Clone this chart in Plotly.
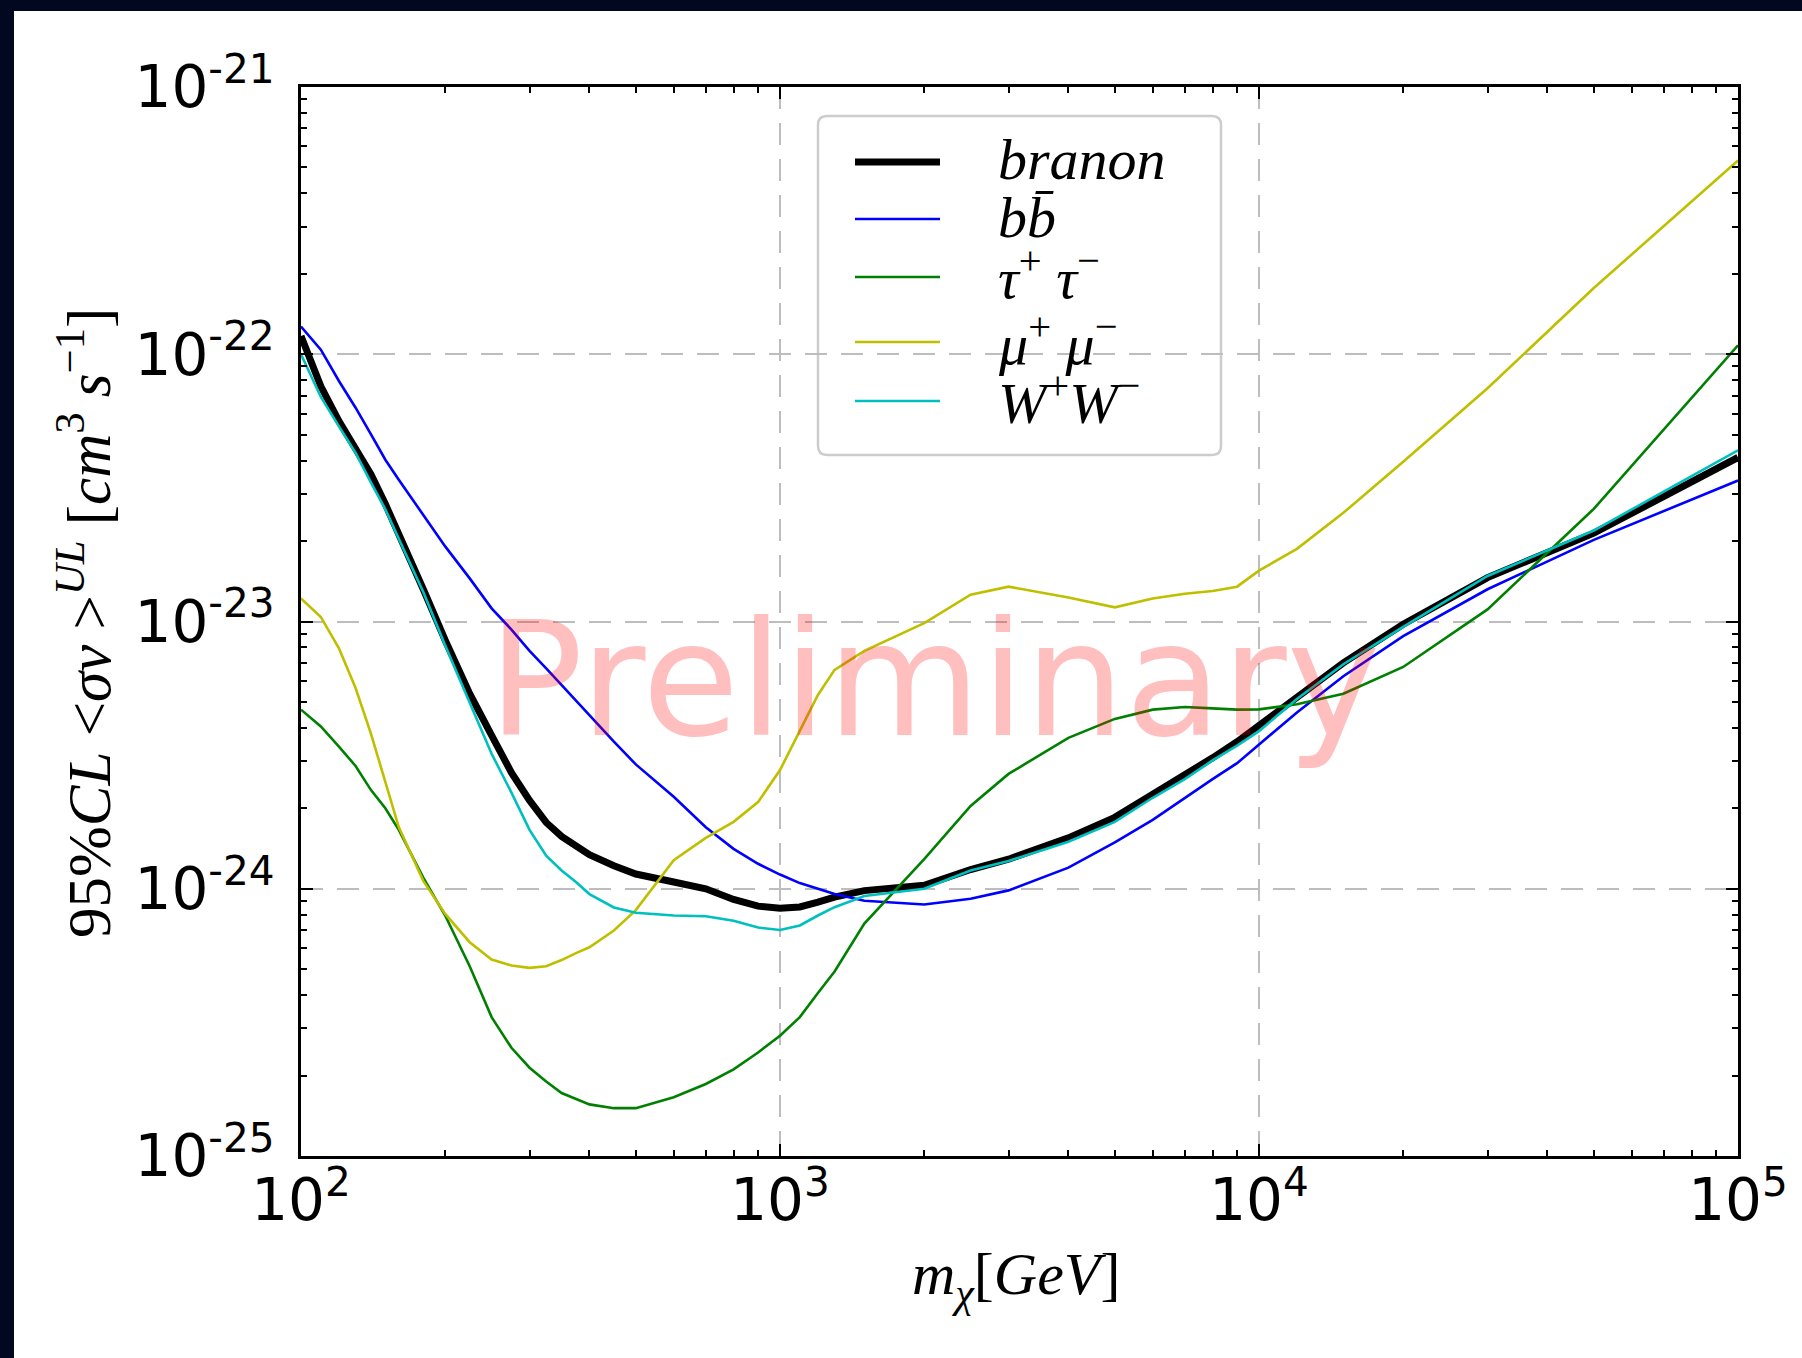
import plotly.graph_objects as go

# ---------------- data ----------------
masses = [100, 110, 120, 130, 140, 150, 160, 180, 200, 225,
          250, 275, 300, 325, 350, 375, 400, 450, 500, 600,
          700, 800, 900, 1000, 1100, 1200, 1300, 1500, 2000, 2500,
          3000, 4000, 5000, 6000, 7000, 8000, 9000, 10000, 12000, 15000,
          20000, 30000, 50000, 100000]

branon = [1.17e-22, 7.59e-23, 5.62e-23, 4.47e-23, 3.55e-23, 2.75e-23, 2.14e-23, 1.32e-23, 8.51e-24, 5.37e-24,
          3.75e-24, 2.72e-24, 2.14e-24, 1.77e-24, 1.57e-24, 1.44e-24, 1.34e-24, 1.22e-24, 1.135e-24, 1.06e-24,
          1.00e-24, 9.12e-25, 8.61e-25, 8.45e-25, 8.55e-25, 8.91e-25, 9.31e-25, 9.84e-25, 1.03e-24, 1.18e-24,
          1.29e-24, 1.55e-24, 1.85e-24, 2.26e-24, 2.66e-24, 3.09e-24, 3.55e-24, 4.07e-24, 5.25e-24, 7.00e-24,
          9.77e-24, 1.46e-23, 2.14e-23, 4.11e-23]

bbbar = [1.27e-22, 1.04e-22, 7.94e-23, 6.31e-23, 5.01e-23, 4.03e-23, 3.39e-23, 2.51e-23, 1.91e-23, 1.45e-23,
         1.12e-23, 9.33e-24, 7.76e-24, 6.68e-24, 5.78e-24, 5.07e-24, 4.47e-24, 3.55e-24, 2.92e-24, 2.21e-24,
         1.70e-24, 1.41e-24, 1.24e-24, 1.13e-24, 1.05e-24, 1.00e-24, 9.55e-25, 9.02e-25, 8.73e-25, 9.18e-25,
         9.86e-25, 1.20e-24, 1.49e-24, 1.81e-24, 2.19e-24, 2.57e-24, 2.95e-24, 3.47e-24, 4.57e-24, 6.24e-24,
         8.81e-24, 1.32e-23, 2.02e-23, 3.37e-23]

tautau = [4.68e-24, 4.05e-24, 3.40e-24, 2.88e-24, 2.34e-24, 2.00e-24, 1.66e-24, 1.10e-24, 7.94e-25, 5.13e-25,
          3.31e-25, 2.54e-25, 2.14e-25, 1.90e-25, 1.72e-25, 1.63e-25, 1.56e-25, 1.51e-25, 1.51e-25, 1.66e-25,
          1.86e-25, 2.11e-25, 2.44e-25, 2.82e-25, 3.31e-25, 4.07e-25, 4.90e-25, 7.41e-25, 1.29e-24, 2.04e-24,
          2.69e-24, 3.67e-24, 4.32e-24, 4.68e-24, 4.79e-24, 4.73e-24, 4.68e-24, 4.69e-24, 4.90e-24, 5.37e-24,
          6.76e-24, 1.11e-23, 2.64e-23, 1.08e-22]

mumu = [1.22e-23, 1.04e-23, 7.94e-24, 5.64e-24, 3.80e-24, 2.51e-24, 1.70e-24, 1.07e-24, 8.05e-25, 6.31e-25,
        5.43e-25, 5.16e-25, 5.06e-25, 5.13e-25, 5.41e-25, 5.74e-25, 6.04e-25, 6.98e-25, 8.32e-25, 1.28e-24,
        1.55e-24, 1.78e-24, 2.11e-24, 2.78e-24, 3.89e-24, 5.31e-24, 6.59e-24, 7.76e-24, 9.86e-24, 1.26e-23,
        1.35e-23, 1.23e-23, 1.13e-23, 1.22e-23, 1.27e-23, 1.30e-23, 1.35e-23, 1.55e-23, 1.87e-23, 2.55e-23,
        3.96e-23, 7.46e-23, 1.77e-22, 5.31e-22]

wwbar = [1.00e-22, 6.92e-23, 5.37e-23, 4.27e-23, 3.31e-23, 2.63e-23, 2.04e-23, 1.29e-23, 8.13e-24, 4.94e-24,
         3.20e-24, 2.29e-24, 1.66e-24, 1.33e-24, 1.17e-24, 1.06e-24, 9.55e-25, 8.51e-25, 8.13e-25, 7.94e-25,
         7.89e-25, 7.59e-25, 7.16e-25, 7.01e-25, 7.29e-25, 7.94e-25, 8.53e-25, 9.40e-25, 1.00e-24, 1.17e-24,
         1.27e-24, 1.50e-24, 1.78e-24, 2.19e-24, 2.57e-24, 3.02e-24, 3.43e-24, 3.89e-24, 5.13e-24, 6.92e-24,
         9.55e-24, 1.48e-23, 2.19e-23, 4.37e-23]

series_labels = ["<i>branon</i>",
                 "<i>b</i><i>b\u0304</i>",
                 "<i>τ</i><sup>+</sup> <i>τ</i><sup>−</sup>",
                 "<i>μ</i><sup>+</sup> <i>μ</i><sup>−</sup>",
                 "<i>W</i><sup>+</sup><i>W</i><sup>−</sup>"]

x_tick_vals = [1e2, 1e3, 1e4, 1e5]
x_tick_text = ["10<sup>2</sup>", "10<sup>3</sup>", "10<sup>4</sup>", "10<sup>5</sup>"]
y_tick_vals = [1e-25, 1e-24, 1e-23, 1e-22, 1e-21]
y_tick_text = ["10<sup>-25</sup>", "10<sup>-24</sup>", "10<sup>-23</sup>", "10<sup>-22</sup>", "10<sup>-21</sup>"]
x_minor_vals = [k * 10 ** e for e in (2, 3, 4) for k in range(2, 10)]
y_minor_vals = [k * 10.0 ** e for e in (-25, -24, -23, -22) for k in range(2, 10)]

# ---------------- style ----------------
NAVY = "#01081f"
colors = ["#000000", "#0000ff", "#008000", "#bfbf00", "#00bfbf"]
widths = [7, 2.6, 2.6, 2.6, 2.6]
series = [branon, bbbar, tautau, mumu, wwbar]
MATH_FONT = "Liberation Serif"

W, H = 1802, 1358
L, R, T, B = 301, 64, 87, 202
PW = W - L - R
PH = H - T - B


def px(x):
    return (x - L) / PW


def py(y):
    return (H - B - y) / PH


fig = go.Figure()
for vals, col, wd, lab in zip(series, colors, widths, series_labels):
    fig.add_trace(go.Scatter(x=masses, y=vals, mode="lines", name=lab,
                             line=dict(color=col, width=wd), showlegend=False))

axis_common = dict(
    type="log", tickmode="array", ticks="inside", ticklen=12, tickwidth=1.5,
    tickcolor="black", showline=True, linecolor="black", linewidth=2.5,
    mirror="allticks", showgrid=True, gridcolor="#bdbdbd", gridwidth=1.6,
    griddash="22px,14px", zeroline=False,
    tickfont=dict(family="DejaVu Sans", size=58, color="black"),
)
fig.update_xaxes(range=[2, 5], tickvals=x_tick_vals, ticktext=x_tick_text,
                 ticklabelstandoff=-8,
                 minor=dict(tickvals=x_minor_vals, ticks="inside", ticklen=6,
                            tickwidth=1.5, tickcolor="black", showgrid=False),
                 **axis_common)
fig.update_yaxes(range=[-25, -21], tickvals=y_tick_vals, ticktext=y_tick_text,
                 ticklabelstandoff=12,
                 minor=dict(tickvals=y_minor_vals, ticks="inside", ticklen=6,
                            tickwidth=1.5, tickcolor="black", showgrid=False),
                 **axis_common)

shapes = []
# white canvas inside the dark frame
shapes.append(dict(type="rect", xref="paper", yref="paper", layer="below",
                   x0=px(14), x1=px(W + 10), y0=py(H + 10), y1=py(11),
                   fillcolor="white", line=dict(width=0)))

# legend frame (rounded)
lx0, lx1, ly0, ly1, rr = 818, 1221, 116, 455, 9


def P(x, y):
    return f"{px(x):.6f},{py(y):.6f}"


path = (f"M{P(lx0 + rr, ly0)} L{P(lx1 - rr, ly0)} Q{P(lx1, ly0)} {P(lx1, ly0 + rr)} "
        f"L{P(lx1, ly1 - rr)} Q{P(lx1, ly1)} {P(lx1 - rr, ly1)} "
        f"L{P(lx0 + rr, ly1)} Q{P(lx0, ly1)} {P(lx0, ly1 - rr)} "
        f"L{P(lx0, ly0 + rr)} Q{P(lx0, ly0)} {P(lx0 + rr, ly0)} Z")
shapes.append(dict(type="path", xref="paper", yref="paper", layer="below", path=path,
                   fillcolor="white", line=dict(color="#cccccc", width=2.5)))

legend_rows = [162, 219, 277, 342, 401]
annotations = []
for yy, col, wd, lab in zip(legend_rows, colors, widths, series_labels):
    shapes.append(dict(type="line", xref="paper", yref="paper", layer="above",
                       x0=px(855), x1=px(940), y0=py(yy), y1=py(yy),
                       line=dict(color=col, width=wd)))
    annotations.append(dict(text=lab, xref="paper", yref="paper", x=px(996), y=py(yy - 2),
                            xanchor="left", yanchor="middle", showarrow=False,
                            font=dict(family=MATH_FONT, size=58, color="black")))

# watermark
annotations.append(dict(text="Preliminary", xref="paper", yref="paper", x=px(934), y=py(680),
                        xanchor="center", yanchor="middle", showarrow=False,
                        font=dict(family="DejaVu Sans", size=158, color="rgba(255,0,0,0.25)")))

# axis titles
annotations.append(dict(text="<i>m</i><sub><i>χ</i></sub>[<i>GeV</i>]", xref="paper", yref="paper",
                        x=px(1016), y=py(1278), xanchor="center", yanchor="middle", showarrow=False,
                        font=dict(family=MATH_FONT, size=60, color="black")))
annotations.append(dict(text="95%<i>CL</i> &lt;<i>σv</i> &gt;<sup><i>UL</i></sup> [<i>cm</i><sup>3</sup> <i>s</i><sup>−1</sup>]",
                        xref="paper", yref="paper", x=px(84), y=py(623), textangle=-90,
                        xanchor="center", yanchor="middle", showarrow=False,
                        font=dict(family=MATH_FONT, size=61, color="black")))

fig.update_layout(
    width=W, height=H, autosize=False,
    margin=dict(l=L, r=R, t=T, b=B, pad=0),
    paper_bgcolor=NAVY, plot_bgcolor="white",
    showlegend=False, hovermode=False,
    font=dict(family="DejaVu Sans", size=58, color="black"),
    shapes=shapes, annotations=annotations,
)

fig.write_html("out.html")
